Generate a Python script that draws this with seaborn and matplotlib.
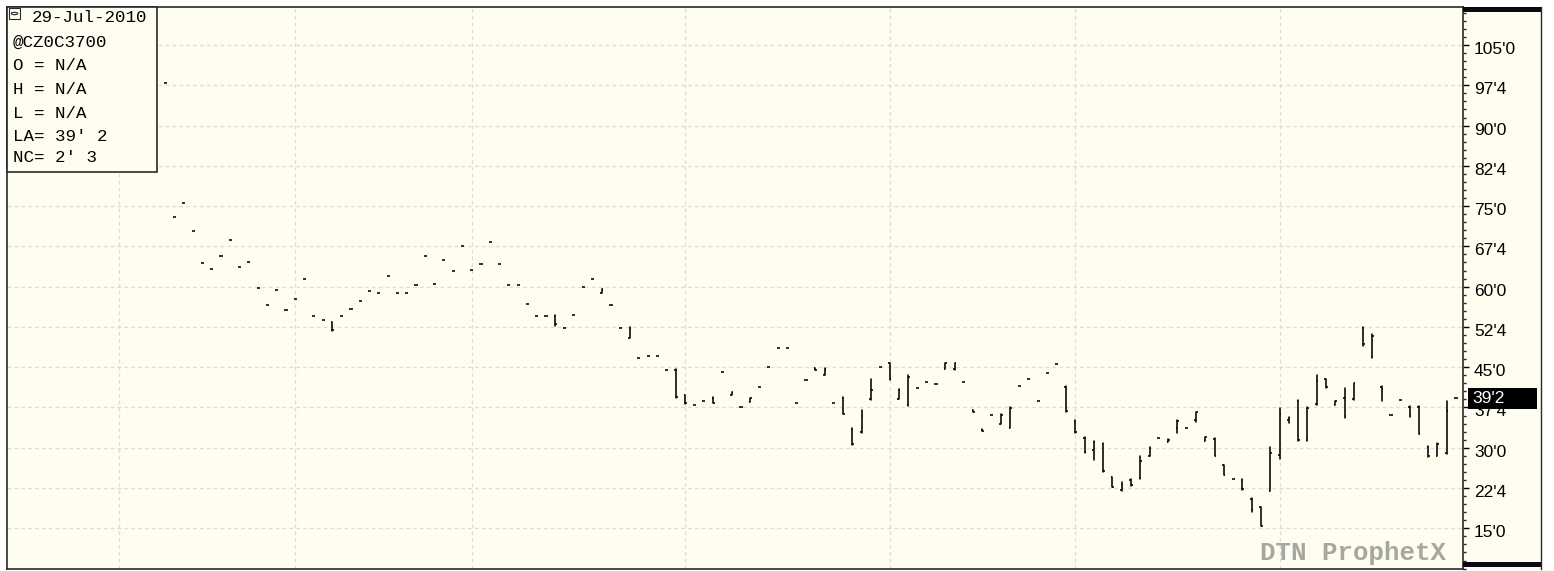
import numpy as np
import pandas as pd
import matplotlib
matplotlib.use("Agg")
import matplotlib.pyplot as plt
import matplotlib.ticker as mticker
import matplotlib.transforms as mtransforms
from matplotlib.patches import Rectangle, Circle
import seaborn as sns

# ---- daily OHLC of the Dec-2010 370 corn call (cents, 1/8 steps) ----
opens = [98.0, 73.0, 75.5, 70.375, 64.375, 63.375, 65.75, 68.625, 63.75, 64.625,
         59.75, 56.5, 59.375, 55.625, 57.625, 61.375, 54.5, 53.875, 53.375, 54.5,
         55.875, 57.375, 59.125, 58.875, 62.0, 58.875, 58.875, 60.25, 65.75, 60.5,
         64.875, 62.875, 67.5, 63.125, 64.25, 68.25, 64.25, 60.25, 60.25, 56.75,
         54.5, 54.5, 54.625, 52.375, 54.75, 60.0, 61.375, 58.875, 56.5, 52.25,
         50.5, 46.625, 47.0, 47.125, 44.5, 44.5, 39.75, 38.0, 38.625, 39.25,
         44.125, 39.875, 37.5, 38.5, 41.25, 45.0, 48.5, 48.5, 38.375, 42.625,
         44.875, 43.5, 38.375, 39.25, 33.5, 32.875, 39.0, 45.0, 45.75, 39.125,
         37.875, 41.125, 42.25, 41.875, 44.625, 44.625, 42.25, 37.0, 33.25, 36.125,
         34.5, 33.75, 41.5, 42.875, 38.75, 43.875, 45.625, 41.375, 35.0, 31.875,
         29.5, 30.75, 24.5, 22.125, 24.0, 24.375, 28.5, 31.75, 31.0, 33.75,
         33.625, 35.125, 31.25, 31.625, 26.75, 24.125, 24.0, 20.5, 19.0, 22.0,
         28.625, 35.125, 38.75, 31.375, 38.125, 42.75, 38.0, 39.25, 39.0, 52.375,
         46.875, 41.375, 36.125, 38.875, 37.625, 37.625, 30.125, 28.5, 29.0, 39.25]

highs = [98.0, 73.0, 75.5, 70.375, 64.375, 63.375, 65.75, 68.625, 63.75, 64.625,
         59.75, 56.5, 59.375, 55.625, 57.625, 61.375, 54.5, 53.875, 53.5, 54.5,
         55.875, 57.375, 59.125, 58.875, 62.0, 58.875, 58.875, 60.25, 65.75, 60.5,
         64.875, 62.875, 67.5, 63.125, 64.25, 68.25, 64.25, 60.25, 60.25, 56.75,
         54.5, 54.5, 54.75, 52.375, 54.75, 60.0, 61.375, 59.5, 56.5, 52.25,
         52.5, 46.625, 47.0, 47.125, 44.5, 44.75, 39.875, 38.0, 38.625, 39.375,
         44.125, 40.375, 37.5, 39.25, 41.25, 45.0, 48.5, 48.5, 38.375, 42.625,
         44.875, 44.875, 38.375, 39.375, 33.625, 37.0, 42.875, 45.0, 45.875, 40.875,
         43.5, 41.125, 42.25, 41.875, 45.875, 45.875, 42.25, 37.0, 33.5, 36.125,
         36.25, 37.5, 41.5, 42.875, 38.75, 43.875, 45.625, 41.5, 35.125, 32.0,
         31.25, 30.875, 24.625, 23.625, 24.125, 28.375, 30.125, 31.75, 31.625, 35.125,
         33.625, 36.75, 32.0, 31.75, 26.75, 24.125, 24.125, 20.625, 19.0, 30.125,
         37.375, 35.75, 38.875, 37.5, 43.5, 42.875, 38.75, 41.125, 42.125, 52.5,
         51.25, 41.5, 36.125, 38.875, 37.75, 37.75, 30.25, 30.875, 38.625, 39.25]

lows = [98.0, 73.0, 75.5, 70.375, 64.375, 63.375, 65.75, 68.625, 63.75, 64.625,
        59.75, 56.5, 59.375, 55.625, 57.625, 61.375, 54.5, 53.875, 51.75, 54.5,
        55.875, 57.375, 59.125, 58.875, 62.0, 58.875, 58.875, 60.25, 65.75, 60.5,
        64.875, 62.875, 67.5, 63.125, 64.25, 68.25, 64.25, 60.25, 60.25, 56.75,
        54.5, 54.5, 52.625, 52.375, 54.75, 60.0, 61.375, 58.875, 56.5, 52.25,
        50.375, 46.625, 47.0, 47.125, 44.5, 39.25, 38.125, 38.0, 38.625, 38.25,
        44.125, 39.875, 37.5, 38.5, 41.25, 45.0, 48.5, 48.5, 38.375, 42.625,
        44.5, 43.5, 38.375, 36.25, 30.5, 32.75, 38.875, 45.0, 42.625, 39.0,
        37.75, 41.125, 42.25, 41.875, 44.625, 44.5, 42.25, 36.75, 33.125, 36.125,
        34.375, 33.625, 41.5, 42.875, 38.75, 43.875, 45.625, 36.75, 32.75, 29.0,
        27.75, 25.5, 22.625, 21.875, 22.875, 24.25, 28.375, 31.75, 31.0, 32.75,
        33.625, 34.875, 31.25, 28.375, 24.875, 24.125, 22.125, 18.125, 15.375, 21.875,
        27.875, 34.625, 31.25, 31.25, 38.0, 41.125, 38.0, 35.625, 38.875, 49.0,
        46.625, 38.625, 36.125, 38.875, 35.75, 32.5, 28.25, 28.375, 28.875, 39.25]

closes = [98.0, 73.0, 75.5, 70.375, 64.375, 63.375, 65.75, 68.625, 63.75, 64.625,
          59.75, 56.5, 59.375, 55.625, 57.625, 61.375, 54.5, 53.875, 52.0, 54.5,
          55.875, 57.375, 59.125, 58.875, 62.0, 58.875, 58.875, 60.25, 65.75, 60.5,
          64.875, 62.875, 67.5, 63.125, 64.25, 68.25, 64.25, 60.25, 60.25, 56.75,
          54.5, 54.5, 53.0, 52.375, 54.75, 60.0, 61.375, 59.5, 56.5, 52.25,
          52.375, 46.625, 47.0, 47.125, 44.5, 39.375, 38.25, 38.0, 38.625, 38.375,
          44.125, 40.375, 37.5, 39.25, 41.25, 45.0, 48.5, 48.5, 38.375, 42.625,
          44.5, 44.75, 38.375, 36.375, 30.625, 36.0, 40.75, 45.0, 42.75, 40.75,
          43.25, 41.125, 42.25, 41.875, 45.75, 45.75, 42.25, 36.75, 33.125, 36.125,
          36.125, 37.375, 41.5, 42.875, 38.75, 43.875, 45.625, 36.875, 32.875, 29.125,
          31.0, 25.625, 22.75, 23.0, 23.0, 27.5, 30.0, 31.75, 31.5, 35.0,
          33.625, 36.625, 32.0, 28.5, 25.0, 24.125, 22.25, 18.375, 15.5, 29.0,
          36.25, 35.625, 31.375, 37.375, 42.375, 41.25, 38.625, 35.875, 42.0, 49.25,
          50.75, 41.0, 36.125, 38.875, 36.0, 32.625, 28.5, 30.625, 36.875, 39.25]

# first trading session of each month (bar index; Jan..Jul 2010)
month_starts = [-5, 14, 33, 56, 78, 98, 120]

# labelled price levels on the scale
price_levels = [15.0, 22.5, 30.0, 37.5, 45.0, 52.5, 60.0, 67.5, 75.0, 82.5, 90.0, 97.5, 105.0]

info_lines = ["29-Jul-2010", "@CZ0C3700", "O = N/A", "H = N/A", "L = N/A",
              "LA= 39' 2", "NC= 2' 3"]
last_label = "39'2"
last_value = 39.25
watermark = "DTN ProphetX"

CREAM = "#FFFCF0"
GRID = "#DCDCDC"
FRAME = "#2A2A2A"

sns.set_style("white")
plt.rcParams["font.family"] = ["Liberation Sans", "DejaVu Sans"]

W, H = 1554, 571
fig = plt.figure(figsize=(W / 100, H / 100), dpi=100, facecolor="white")


def fx(px):
    return px / W


def fy(py):
    return 1 - py / H


def frect(x0, y0, x1, y1, **kw):
    r = Rectangle((fx(x0), fy(y1)), fx(x1) - fx(x0), fy(y0) - fy(y1),
                  transform=fig.transFigure, **kw)
    fig.add_artist(r)
    return r


# price-scale panel on the right
panel = fig.add_axes([fx(1463), fy(569), fx(1541) - fx(1463), fy(7) - fy(569)])
panel.set_facecolor(CREAM)
panel.set_xticks([])
panel.set_yticks([])
for s in panel.spines.values():
    s.set_visible(False)
panel.spines["right"].set_visible(True)
panel.spines["right"].set_color(FRAME)
panel.spines["right"].set_linewidth(1.0)

# main price chart
ax = fig.add_axes([fx(7), fy(569), fx(1463) - fx(7), fy(7) - fy(569)])
ax.set_facecolor(CREAM)

bars = np.arange(len(opens))
hl = pd.DataFrame({"bar": np.repeat(bars, 2),
                   "price": np.column_stack([lows, highs]).ravel()})
sns.lineplot(data=hl, x="bar", y="price", units="bar", estimator=None,
             sort=False, color="black", lw=1.15, ax=ax, legend=False)

tick = 0.17
ax.hlines(opens, bars - tick, bars, color="black", lw=1.15, zorder=3)
ax.hlines(closes, bars, bars + tick, color="black", lw=1.15, zorder=3)

ax.set_xlim(-17.05, 139.75)
ax.set_ylim(7.42, 112.08)
ax.set_xlabel("")
ax.set_ylabel("")

ax.set_xticks(month_starts)
ax.tick_params(axis="x", length=0, labelbottom=False)

ax.yaxis.tick_right()
ax.yaxis.set_major_locator(mticker.FixedLocator(price_levels))
ax.yaxis.set_minor_locator(mticker.MultipleLocator(1.5))


def eighths(v, pos=None):
    whole = int(np.floor(v + 1e-9))
    frac = int(round((v - whole) * 8))
    return f"{whole}'{frac}"


ax.yaxis.set_major_formatter(mticker.FuncFormatter(eighths))
ax.tick_params(axis="y", which="major", length=4, width=1.0, direction="out",
               pad=4, labelsize=12.5, colors="black", right=True, left=False)
ax.tick_params(axis="y", which="minor", length=2.2, width=1.0, direction="out",
               right=True, left=False)
shift = mtransforms.ScaledTranslation(0, -3 / 100, fig.dpi_scale_trans)
for lab in ax.get_yticklabels():
    lab.set_transform(lab.get_transform() + shift)

ax.grid(True, axis="both", which="major", color=GRID, linestyle=(0, (3, 2.5)), lw=0.9)
ax.set_axisbelow(True)

for name, sp in ax.spines.items():
    sp.set_color(FRAME)
    sp.set_linewidth(1.2)
    sp.set_visible(True)

# last-price flag on the scale
ytr = ax.get_yaxis_transform()
span = 1463 - 7
ax.add_patch(Rectangle(((1468 - 7) / span, last_value - 1.95), (1537 - 1468) / span, 3.9,
                       transform=ytr, facecolor="black", edgecolor="none",
                       clip_on=False, zorder=6))
ax.text((1472 - 7) / span, last_value, last_label, transform=ytr,
        color="white", fontsize=12.5, va="center", ha="left", zorder=7,
        clip_on=False)

# thick bands on the scale panel
frect(1463, 7, 1541, 12, facecolor="#0A0A14", edgecolor="none", zorder=2)
frect(1463, 562, 1541, 567, facecolor="#0A0A14", edgecolor="none", zorder=2)

# quote box
frect(7, 7, 157, 172, facecolor=CREAM, edgecolor=FRAME, lw=1.2, zorder=3)
frect(9, 8, 20, 19, facecolor=CREAM, edgecolor=FRAME, lw=0.8, zorder=4)
fig.add_artist(Circle((fx(14.5), fy(13.5)), 3.2 / W, transform=fig.transFigure,
                      facecolor="none", edgecolor=FRAME, lw=0.8, zorder=5))
line_y = [18, 42, 65, 89, 113, 136, 158]
for i, (txt, yy) in enumerate(zip(info_lines, line_y)):
    fig.text(fx(32 if i == 0 else 13), fy(yy), txt, family="Liberation Mono",
             fontsize=12.6, color="black", va="center", ha="left", zorder=6)

fig.text(fx(1260), fy(553), watermark, family="Liberation Mono", weight="bold",
         fontsize=18.5, color="#A6A8A0", va="center", ha="left", zorder=6)

fig.savefig("out.png", dpi=100, facecolor="white")
